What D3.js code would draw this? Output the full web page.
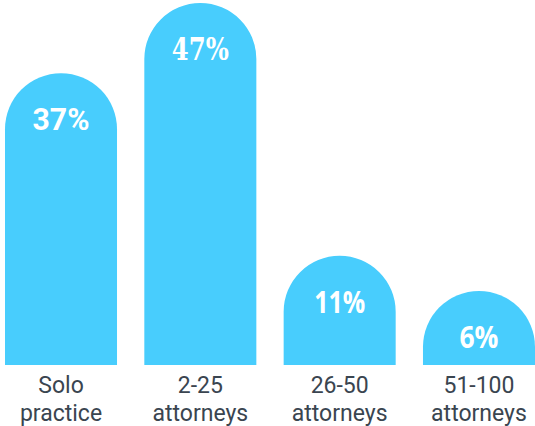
<!DOCTYPE html>
<html>
<head>
<meta charset="utf-8">
<script src="https://cdn.jsdelivr.net/npm/d3@7"></script>
<style>
  html, body { margin: 0; padding: 0; background: #ffffff; }
  svg { display: block; }
</style>
</head>
<body>
<svg id="chart" width="535" height="426"></svg>
<script>
// Firm size categories (two-line labels) and share of respondents (%)
const categories = ["Solo practice", "2-25 attorneys", "26-50 attorneys", "51-100 attorneys"];
const categoryLines = [["Solo", "practice"], ["2-25", "attorneys"], ["26-50", "attorneys"], ["51-100", "attorneys"]];
const values = [37, 47, 11, 6];
const valueLabels = ["37%", "47%", "11%", "6%"];

// Typeface used for each value label
const labelFonts = [
  { family: "Roboto, 'Liberation Sans', sans-serif", weight: 700, size: 31, width: 57 },
  { family: "'DejaVu Serif', serif", weight: 700, size: 31, width: 57 },
  { family: "'Open Sans', 'Noto Sans', sans-serif", weight: 700, size: 31, width: 51 },
  { family: "'Open Sans', 'Noto Sans', sans-serif", weight: 700, size: 30, width: 39 }
];

const W = 535, H = 426;
const baseline = 365;
const barColor = "#48cdfd";

const svg = d3.select("#chart");

const x = d3.scaleBand()
  .domain(categories)
  .range([5, 535])
  .paddingInner(0.196)
  .paddingOuter(0);

const y = d3.scaleLinear()
  .domain([0, 47])
  .range([333, 3]);

const bw = x.bandwidth();
const r = bw / 2;

// Bar with a semicircular cap
function capsule(d, i) {
  const x0 = x(categories[i]);
  const top = y(d);
  return `M${x0},${baseline} L${x0},${top + r} A${r},${r} 0 0 1 ${x0 + bw},${top + r} L${x0 + bw},${baseline} Z`;
}

svg.append("g")
  .selectAll("path")
  .data(values)
  .join("path")
  .attr("d", capsule)
  .attr("fill", barColor);

// Value labels inside the caps
svg.append("g")
  .selectAll("text")
  .data(values)
  .join("text")
  .attr("x", (d, i) => x(categories[i]) + bw / 2)
  .attr("y", d => y(d) + 57)
  .attr("text-anchor", "middle")
  .attr("fill", "#ffffff")
  .attr("font-family", (d, i) => labelFonts[i].family)
  .attr("font-weight", (d, i) => labelFonts[i].weight)
  .attr("font-size", (d, i) => labelFonts[i].size)
  .attr("textLength", (d, i) => labelFonts[i].width)
  .attr("lengthAdjust", "spacingAndGlyphs")
  .text((d, i) => valueLabels[i]);

// Category labels under the bars
const cat = svg.append("g")
  .selectAll("text")
  .data(categories)
  .join("text")
  .attr("x", d => x(d) + bw / 2)
  .attr("y", 393)
  .attr("text-anchor", "middle")
  .attr("fill", "#3a4550")
  .attr("font-family", "Roboto, 'Liberation Sans', sans-serif")
  .attr("font-size", 23);

cat.selectAll("tspan")
  .data((d, i) => categoryLines[i].map(t => ({ t, cx: x(d) + bw / 2 })))
  .join("tspan")
  .attr("x", d => d.cx)
  .attr("dy", (d, j) => j === 0 ? 0 : 28)
  .text(d => d.t);
</script>
</body>
</html>
